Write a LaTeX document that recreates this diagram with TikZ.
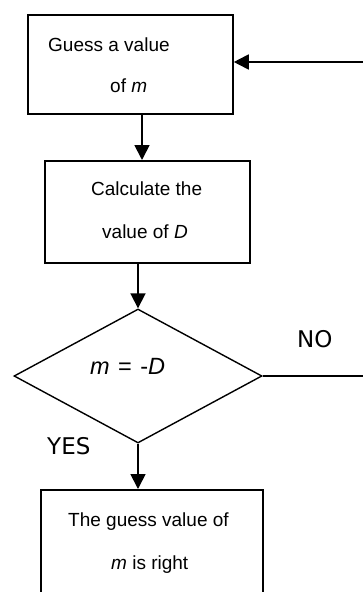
\documentclass[tikz,border=0pt]{standalone}
\usepackage{fontspec}
\setmainfont{Liberation Sans}
\newfontfamily\ynfont{DejaVu Sans}
\usetikzlibrary{arrows.meta,shapes.geometric}
\tikzset{
  box/.style={draw, line width=1.8pt, rectangle, inner sep=0pt, anchor=north west},
  txt/.style={inner sep=0pt, anchor=base west, font=\fontsize{19}{22}\selectfont},
  yn/.style={inner sep=0pt, anchor=base west, font=\ynfont\fontsize{23}{26}\selectfont},
  arr/.style={line width=1.8pt, -{Triangle[length=15pt,width=15pt]}},
  thin/.style={line width=1.4pt},
}
\begin{document}
\begin{tikzpicture}[x=1pt,y=-1pt]
\path[use as bounding box, clip] (0,0) rectangle (363,592);
\fill[white] (0,0) rectangle (363,592);
% boxes
\node[box, minimum width=205pt, minimum height=99pt] (b1) at (27,14) {};
\node[box, minimum width=205pt, minimum height=102pt] (b2) at (44,160) {};
\node[box, minimum width=222pt, minimum height=130pt] (b3) at (40,489) {};
\node[draw, thin, diamond, inner sep=0pt, minimum width=248pt, minimum height=134pt] (dec) at (138,376) {};
% texts
\node[txt] (t1) at (48,51) {Guess a value};
\node[txt] (t2) at (110,92) {of \textit{m}};
\node[txt] (t3) at (91,195) {Calculate the};
\node[txt] (t4) at (102,238) {value of \textit{D}};
\node[txt, font=\fontsize{23.5}{26}\selectfont] (t5) at (90,374) {\textit{m}\hspace{0.36em}=\hspace{0.36em}-\textit{D}};
\node[txt] (t6) at (68,526) {The guess value of};
\node[txt] (t7) at (111,569) {\textit{m} is right};
\node[yn] (no) at (297,347) {NO};
\node[yn] (yes) at (47,454) {YES};
% connectors
\coordinate (a1) at (142,113);
\coordinate (a2) at (138,262);
\coordinate (a3) at (138,443);
\coordinate (r1) at (366,376);
\coordinate (r2) at (366,62);
\draw[arr] (a1) -- (a1 |- b2.north);
\draw[arr] (a2) -- (dec.north);
\draw[arr] (dec.south) -- (dec.south |- b3.north);
\draw[thin] (dec.east) -- (r1);
\draw[arr] (r2) -- (b1.east |- r2);
\end{tikzpicture}
\end{document}
